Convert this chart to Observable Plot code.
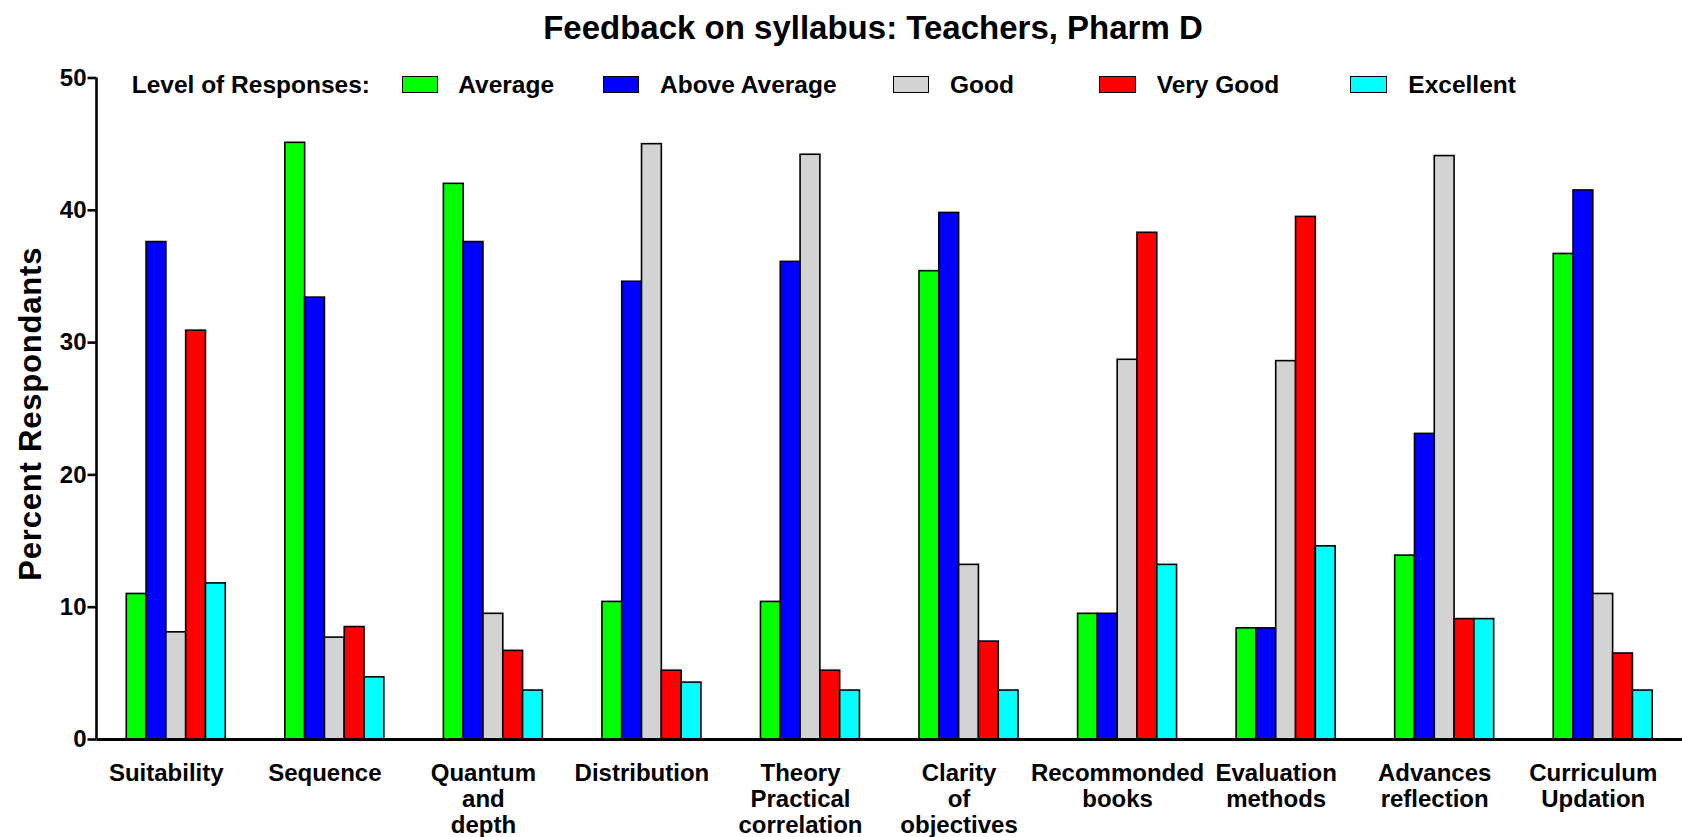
<!DOCTYPE html>
<html>
<head>
<meta charset="utf-8">
<script src="https://cdn.jsdelivr.net/npm/d3@7"></script>
<script src="https://cdn.jsdelivr.net/npm/@observablehq/plot@0.6"></script>
<style>
  body { margin: 0; background: #fff; font-family: "Liberation Sans", Arial, sans-serif; }
  #wrap { position: relative; width: 1682px; height: 837px; overflow: hidden; background: #fff; }
  #title { position: absolute; left: 0; top: 11.4px; width: 1746px; text-align: center;
           font-size: 33px; line-height: 33px; font-weight: bold; color: #000; white-space: nowrap; }
  #chart { position: absolute; left: 0; top: 60px; }
  #chart g[aria-label="text"] text { letter-spacing: 0.8px; }
  #legend { position: absolute; left: 0; top: 0; width: 1682px; height: 120px; pointer-events: none; }
  #legend .head, #legend .lab { position: absolute; top: 72.6px; font-size: 24.5px; line-height: 24.5px;
           font-weight: bold; color: #000; white-space: nowrap; }
  #legend .head { left: 131.7px; }
  #legend .sw { position: absolute; top: 76px; width: 36.7px; height: 17.3px; box-sizing: border-box;
           border: 1.6px solid #000; }
  #legend .item:nth-of-type(1) .sw { left: 401.7px; } #legend .item:nth-of-type(1) .lab { left: 458.3px; }
  #legend .item:nth-of-type(2) .sw { left: 602.7px; } #legend .item:nth-of-type(2) .lab { left: 660px; }
  #legend .item:nth-of-type(3) .sw { left: 892.7px; } #legend .item:nth-of-type(3) .lab { left: 950px; }
  #legend .item:nth-of-type(4) .sw { left: 1099.3px; } #legend .item:nth-of-type(4) .lab { left: 1156.7px; }
  #legend .item:nth-of-type(5) .sw { left: 1350px; } #legend .item:nth-of-type(5) .lab { left: 1408.3px; }
</style>
</head>
<body>
<div id="wrap">
  <div id="title">Feedback on syllabus: Teachers, Pharm D</div>
  <div id="chart"></div>
  <div id="legend"><span class="head">Level of Responses:</span></div>
</div>
<script>
// ---- data ----
const categories = ["Suitability", "Sequence", "Quantum\nand\ndepth", "Distribution",
  "Theory\nPractical\ncorrelation", "Clarity\nof\nobjectives", "Recommonded\nbooks",
  "Evaluation\nmethods", "Advances\nreflection", "Curriculum\nUpdation"];
const levels = ["Average", "Above Average", "Good", "Very Good", "Excellent"];
const colors = ["#00ff00", "#0000ff", "#d3d3d3", "#ff0000", "#00ffff"];
const average      = [11.0, 45.1, 42.0, 10.4, 10.4, 35.4,  9.5,  8.4, 13.9, 36.7];
const aboveAverage = [37.6, 33.4, 37.6, 34.6, 36.1, 39.8,  9.5,  8.4, 23.1, 41.5];
const good         = [ 8.1,  7.7,  9.5, 45.0, 44.2, 13.2, 28.7, 28.6, 44.1, 11.0];
const veryGood     = [30.9,  8.5,  6.7,  5.2,  5.2,  7.4, 38.3, 39.5,  9.1,  6.5];
const excellent    = [11.8,  4.7,  3.7,  4.3,  3.7,  3.7, 13.2, 14.6,  9.1,  3.7];
const yTicks = [0, 10, 20, 30, 40, 50];
const yLabel = "Percent Respondants";

// ---- layout ----
const W = 1682, H = 777;
const mL = 96.5, mR = 0, mT = 17.5, mB = 98;
const padIn = 0.3756, padOut = padIn / 2;
const step = (W - mL - mR) / (categories.length - padIn + 2 * padOut);
const bw = step * (1 - padIn) / levels.length;
const series = [average, aboveAverage, good, veryGood, excellent];
const rows = levels.map((lv, k) => categories.map((c, i) => ({category: c, level: lv, value: series[k][i]})));

const yAxisLine = (index, scales, values, dims) => {
  const line = d3.create("svg:line")
    .attr("x1", dims.marginLeft).attr("x2", dims.marginLeft)
    .attr("y1", dims.marginTop).attr("y2", dims.height - dims.marginBottom)
    .attr("stroke", "black").attr("stroke-width", 2.6);
  return line.node();
};

const chart = Plot.plot({
  width: W, height: H,
  marginLeft: mL, marginRight: mR, marginTop: mT, marginBottom: mB,
  style: {fontFamily: "'Liberation Sans', Arial, sans-serif", background: "transparent", overflow: "visible", color: "black"},
  x: {type: "band", domain: categories, paddingInner: padIn, paddingOuter: padOut, round: false, align: 0.5},
  y: {domain: [0, 50]},
  color: {domain: levels, range: colors},
  marks: [
    ...rows.map((data, k) => Plot.barY(data, {
      x: "category", y: "value", fill: "level", stroke: "black", strokeWidth: 1.6,
      insetLeft: k * bw, insetRight: (levels.length - 1 - k) * bw
    })),
    Plot.ruleY([0], {stroke: "black", strokeWidth: 3}),
    yAxisLine,
    Plot.axisY({ticks: yTicks, tickSize: 9, tickPadding: 1.5, strokeWidth: 2.6,
      fontSize: 24, fontWeight: "bold", label: null}),
    Plot.axisX({tickSize: 0, tickPadding: 23, fontSize: 24, fontWeight: "bold",
      lineHeight: 1.08, dx: -10, label: null}),
    Plot.text([yLabel], {frameAnchor: "left", textAnchor: "middle", rotate: -90, dx: -66, dy: 5,
      fontSize: 31, fontWeight: "bold", fill: "black"})
  ]
});
document.getElementById("chart").appendChild(chart);

// ---- legend ----
const legend = d3.select("#legend");
levels.forEach((lv, k) => {
  const it = legend.append("div").attr("class", "item");
  it.append("span").attr("class", "sw").style("background", colors[k]);
  it.append("span").attr("class", "lab").text(lv);
});
</script>
</body>
</html>
